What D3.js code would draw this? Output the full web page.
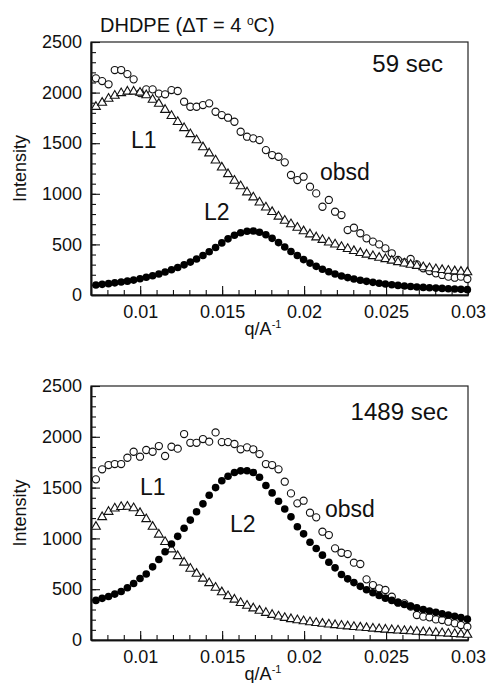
<!DOCTYPE html>
<html>
<head>
<meta charset="utf-8">
<script src="https://cdn.jsdelivr.net/npm/d3@7"></script>
<style>
body { margin: 0; background: #fff; }
svg text { font-family: "Liberation Sans", Arial, Helvetica, sans-serif; fill: #111; }
</style>
</head>
<body>
<script>
// scattering vector q (A^-1), same grid for all series
var q = [0.00730, 0.00768, 0.00807, 0.00845, 0.00884, 0.00922, 0.00960, 0.00999, 0.01037, 0.01076,
         0.01114, 0.01152, 0.01191, 0.01229, 0.01268, 0.01306, 0.01344, 0.01383, 0.01421, 0.01460,
         0.01498, 0.01536, 0.01575, 0.01613, 0.01652, 0.01690, 0.01728, 0.01767, 0.01805, 0.01844,
         0.01882, 0.01920, 0.01959, 0.01997, 0.02036, 0.02074, 0.02112, 0.02151, 0.02189, 0.02228,
         0.02266, 0.02304, 0.02343, 0.02381, 0.02420, 0.02458, 0.02496, 0.02535, 0.02573, 0.02612,
         0.02650, 0.02688, 0.02727, 0.02765, 0.02804, 0.02842, 0.02880, 0.02919, 0.02957, 0.02996];

// 59 sec
var obsd59 = [2141, 2114, 2082, 2223, 2223, 2183, 2131, 1995, 2032, 2032,
              1990, 1983, 2025, 2016, 1910, 1860, 1860, 1877, 1894, 1811,
              1778, 1752, 1712, 1613, 1564, 1548, 1531, 1432, 1383, 1366,
              1311, 1186, 1136, 1169, 1070, 1004, 872, 939, 823, 790,
              642, 665, 610, 560, 527, 500, 461, 412, 346, 323,
              356, 303, 264, 237, 214, 198, 181, 171, 181, 158];
var l1_59 = [1860, 1900, 1940, 1970, 1995, 2010, 2010, 2000, 1975, 1930,
             1890, 1830, 1770, 1710, 1650, 1590, 1530, 1460, 1400, 1330,
             1260, 1195, 1130, 1075, 1015, 965, 915, 865, 820, 775,
             735, 700, 665, 630, 600, 570, 545, 520, 500, 475,
             455, 435, 415, 400, 385, 368, 355, 340, 325, 312,
             300, 288, 275, 265, 255, 247, 240, 235, 230, 225];
var l2_59 = [99, 105, 112, 120, 128, 137, 147, 160, 175, 190,
             208, 228, 250, 272, 298, 325, 355, 390, 428, 470,
             515, 555, 590, 615, 630, 632, 620, 595, 560, 518,
             475, 430, 390, 350, 315, 283, 255, 230, 208, 188,
             172, 158, 146, 135, 125, 116, 108, 101, 95, 89,
             84, 79, 75, 71, 68, 65, 62, 59, 56, 53];

// 1489 sec
var obsd1489 = [1581, 1680, 1722, 1732, 1732, 1794, 1853, 1804, 1870, 1853,
                1909, 1811, 1902, 1883, 2027, 1941, 1941, 1978, 1952, 2043,
                1948, 1948, 1929, 1877, 1896, 1877, 1830, 1732, 1722, 1680,
                1558, 1443, 1345, 1371, 1253, 1207, 1066, 1033, 902, 859,
                846, 761, 748, 597, 541, 509, 492, 426, 367, 361,
                328, 246, 230, 223, 203, 197, 180, 164, 148, 131];
var l1_1489 = [1115, 1210, 1262, 1295, 1310, 1312, 1298, 1250, 1190, 1115,
               1038, 965, 893, 826, 762, 702, 652, 605, 560, 515,
               470, 432, 398, 365, 338, 312, 288, 268, 248, 232,
               218, 206, 195, 185, 176, 168, 160, 153, 147, 141,
               135, 129, 123, 118, 113, 108, 103, 98, 94, 90,
               86, 82, 78, 74, 71, 67, 63, 60, 56, 52];
var l2_1489 = [390, 410, 428, 452, 477, 515, 556, 605, 650, 720,
               792, 868, 945, 1020, 1100, 1180, 1262, 1340, 1425, 1500,
               1568, 1612, 1648, 1665, 1666, 1648, 1602, 1520, 1448, 1365,
               1290, 1212, 1115, 1045, 962, 900, 835, 765, 710, 645,
               602, 565, 528, 495, 465, 438, 412, 390, 370, 350,
               333, 316, 300, 285, 272, 259, 246, 234, 222, 205];

var xTicks = [0.01, 0.015, 0.02, 0.025, 0.03];
var xMinor = d3.range(7, 31).map(function(d){ return d / 1000; });
var yTicks = [0, 500, 1000, 1500, 2000, 2500];
var yMinor = d3.range(0, 2600, 100);

var w = 489, h = 683;
var left = 91, right = 468;

var svg = d3.select("body").append("svg")
    .attr("width", w)
    .attr("height", h);

// title
var title = svg.append("text")
    .attr("x", 100)
    .attr("y", 32)
    .style("font-size", "20px")
    .text("DHDPE (\u0394T = 4 ");
title.append("tspan").attr("dy", -7).style("font-size", "12px").text("o");
title.append("tspan").attr("dy", 7).text("C)");

var panels = [
  { obsd: obsd59, l1: l1_59, l2: l2_59, top: 42, bottom: 295, time: "59 sec",
    timeX: 443, timeY: 72, L1: [131, 148], L2: [204, 220], ob: [320, 180] },
  { obsd: obsd1489, l1: l1_1489, l2: l2_1489, top: 386, bottom: 640, time: "1489 sec",
    timeX: 448, timeY: 420, L1: [140, 495], L2: [230, 532], ob: [325, 517] }
];

var x = d3.scaleLinear().domain([0.007, 0.030]).range([left, right]);

panels.forEach(function(p){
  var y = d3.scaleLinear().domain([0, 2500]).range([p.bottom, p.top]);
  var g = svg.append("g");

  // frame
  g.append("rect")
    .attr("x", left).attr("y", p.top)
    .attr("width", right - left).attr("height", p.bottom - p.top)
    .style("fill", "none").style("stroke", "#222").style("stroke-width", 1.2);

  // minor ticks
  g.append("g").attr("transform", "translate(0," + p.bottom + ")")
    .call(d3.axisBottom(x).tickValues(xMinor).tickSize(-5).tickSizeOuter(0).tickFormat(""));
  g.append("g").attr("transform", "translate(" + left + ",0)")
    .call(d3.axisLeft(y).tickValues(yMinor).tickSize(-5).tickSizeOuter(0).tickFormat(""));

  // major ticks + labels
  g.append("g").attr("transform", "translate(0," + p.bottom + ")")
    .call(d3.axisBottom(x).tickValues(xTicks).tickSize(-9).tickSizeOuter(0).tickPadding(10)
      .tickFormat(d3.format("")));
  g.append("g").attr("transform", "translate(" + left + ",0)")
    .call(d3.axisLeft(y).tickValues(yTicks).tickSize(-9).tickSizeOuter(0).tickPadding(9)
      .tickFormat(d3.format("d")));

  g.selectAll(".domain").style("stroke", "#111").style("stroke-width", 1.6);
  g.selectAll(".tick line").style("stroke", "#111").style("stroke-width", 1.1);
  g.selectAll(".tick text").style("font-size", "18px").style("fill", "#111")
    .style("font-family", "'Liberation Sans', Arial, sans-serif");

  // axis titles
  var xt = g.append("text")
    .attr("x", 263).attr("y", p.bottom + 40)
    .attr("text-anchor", "middle")
    .style("font-size", "18px")
    .text("q/A");
  xt.append("tspan").attr("dy", -7).style("font-size", "11px").text("-1");

  g.append("text")
    .attr("transform", "translate(26," + ((p.top + p.bottom) / 2 + 0) + ") rotate(-90)")
    .attr("text-anchor", "middle")
    .style("font-size", "18px")
    .text("Intensity");

  // observed: open circles
  g.selectAll("circle.obsd").data(p.obsd).enter().append("circle")
    .attr("class", "obsd")
    .attr("cx", function(d, i){ return x(q[i]); })
    .attr("cy", function(d){ return y(d); })
    .attr("r", 3.6)
    .style("fill", "#fff").style("stroke", "#111").style("stroke-width", 1.1);

  // L1: open triangles
  var tri = d3.symbol().type(d3.symbolTriangle).size(34);
  g.selectAll("path.l1").data(p.l1).enter().append("path")
    .attr("class", "l1")
    .attr("d", tri)
    .attr("transform", function(d, i){ return "translate(" + x(q[i]) + "," + y(d) + ")"; })
    .style("fill", "#fff").style("stroke", "#111").style("stroke-width", 1.1);

  // L2: filled circles
  g.selectAll("circle.l2").data(p.l2).enter().append("circle")
    .attr("class", "l2")
    .attr("cx", function(d, i){ return x(q[i]); })
    .attr("cy", function(d){ return y(d); })
    .attr("r", 3.8)
    .style("fill", "#000");

  // labels
  g.append("text").attr("x", p.timeX).attr("y", p.timeY)
    .attr("text-anchor", "end").style("font-size", "24px").text(p.time);
  g.append("text").attr("x", p.L1[0]).attr("y", p.L1[1]).style("font-size", "23px").text("L1");
  g.append("text").attr("x", p.L2[0]).attr("y", p.L2[1]).style("font-size", "23px").text("L2");
  g.append("text").attr("x", p.ob[0]).attr("y", p.ob[1]).style("font-size", "23px").text("obsd");
});
</script>
</body>
</html>
